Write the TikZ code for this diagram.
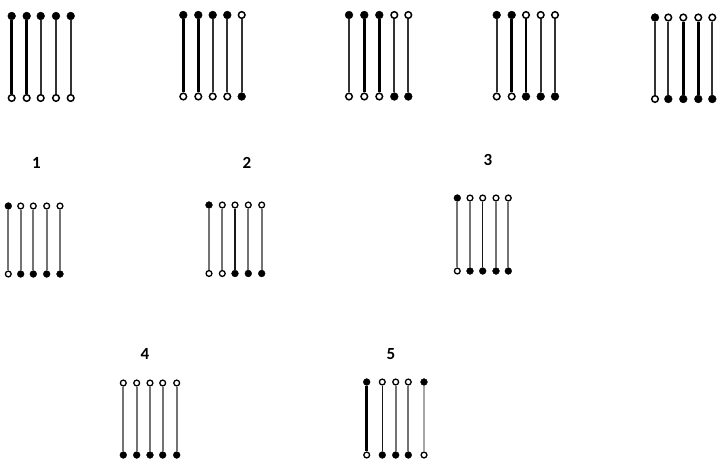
\documentclass[tikz,border=0pt]{standalone}
\usepackage{fontspec}
\setmainfont{Carlito}
\begin{document}
\begin{tikzpicture}[
    x=1pt,
    y=-1pt,
    dotfull/.style={
        circle,
        draw=black,
        fill=black,
        line width=0.4pt,
        inner sep=0pt,
        minimum size=7.8pt
    },
    dotopen/.style={
        circle,
        draw=black,
        fill=white,
        line width=1.5pt,
        inner sep=0pt,
        minimum size=6.6pt
    },
    dotfullsm/.style={
        dotfull,
        minimum size=6.8pt
    },
    dotopensm/.style={
        dotopen,
        line width=1.3pt,
        minimum size=5.8pt
    },
    strongline/.style={
        line width=2.8pt,
        black
    },
    thinline/.style={
        line width=1.7pt,
        black!80
    },
    grayline/.style={
        line width=2.2pt,
        black!55
    },
    darkline/.style={
        line width=1.5pt,
        black!90
    },
    lightline/.style={
        line width=2pt,
        black!35
    },
    numlabel/.style={
        font=\fontsize{17}{17}\selectfont\bfseries,
        inner sep=0pt
    }
]

\useasboundingbox (0,0) rectangle (720,461);

\foreach \x/\t/\b/\s [count=\i] in {
    11.7/dotfull/dotopen/strongline,
    26.7/dotfull/dotopen/strongline,
    40.7/dotfull/dotopen/thinline,
    56/dotfull/dotopen/thinline,
    70.7/dotfull/dotopen/thinline}{
    \node[\t] (a\i t) at (\x,16) {};
    \node[\b] (a\i b) at (\x,98) {};
    \draw[\s] (a\i t) -- (a\i b);
}

\foreach \x/\t/\b/\s [count=\i] in {
    183.3/dotfull/dotopen/strongline,
    198.3/dotfull/dotopen/strongline,
    212.7/dotfull/dotopen/thinline,
    227.3/dotfull/dotopen/thinline,
    241.7/dotopen/dotfull/thinline}{
    \node[\t] (b\i t) at (\x,15) {};
    \node[\b] (b\i b) at (\x,96.5) {};
    \draw[\s] (b\i t) -- (b\i b);
}

\foreach \x/\t/\b/\s [count=\i] in {
    349/dotfull/dotopen/thinline,
    364.3/dotfull/dotopen/strongline,
    379.3/dotfull/dotopen/strongline,
    394.3/dotopen/dotfull/thinline,
    408.3/dotopen/dotfull/thinline}{
    \node[\t] (c\i t) at (\x,15) {};
    \node[\b] (c\i b) at (\x,96.5) {};
    \draw[\s] (c\i t) -- (c\i b);
}

\foreach \x/\t/\b/\s [count=\i] in {
    496.7/dotfull/dotopen/thinline,
    511.7/dotfull/dotopen/strongline,
    526/dotopen/dotfull/strongline,
    540.7/dotopen/dotfull/thinline,
    555/dotopen/dotfull/thinline}{
    \node[\t] (d\i t) at (\x,15) {};
    \node[\b] (d\i b) at (\x,96.5) {};
    \draw[\s] (d\i t) -- (d\i b);
}

\foreach \x/\t/\b/\s [count=\i] in {
    655/dotfull/dotopen/thinline,
    668.3/dotopen/dotfull/thinline,
    683.3/dotopen/dotfull/strongline,
    698.3/dotopen/dotfull/strongline,
    712.3/dotopen/dotfull/thinline}{
    \node[\t] (e\i t) at (\x,17.5) {};
    \node[\b] (e\i b) at (\x,99) {};
    \draw[\s] (e\i t) -- (e\i b);
}

\node[numlabel] (lab1) at (36.5,163) {1};
\node[numlabel] (lab2) at (247,163) {2};
\node[numlabel] (lab3) at (488,160) {3};
\node[numlabel] (lab4) at (145,354) {4};
\node[numlabel] (lab5) at (391,354) {5};

\foreach \x/\t/\b/\s [count=\i] in {
    8.3/dotfullsm/dotopensm/grayline,
    20.7/dotopensm/dotfullsm/grayline,
    33.3/dotopensm/dotfullsm/grayline,
    46.7/dotopensm/dotfullsm/grayline,
    60/dotopensm/dotfullsm/grayline}{
    \node[\t] (p\i t) at (\x,206) {};
    \node[\b] (p\i b) at (\x,274) {};
    \draw[\s] (p\i t) -- (p\i b);
}

\foreach \x/\t/\b/\s [count=\i] in {
    209/dotfullsm/dotopensm/grayline,
    222.3/dotopensm/dotopensm/grayline,
    235/dotopensm/dotfullsm/darkline,
    248.3/dotopensm/dotfullsm/grayline,
    261.7/dotopensm/dotfullsm/grayline}{
    \node[\t] (q\i t) at (\x,205) {};
    \node[\b] (q\i b) at (\x,273.5) {};
    \draw[\s] (q\i t) -- (q\i b);
}

\foreach \x/\t/\b/\s [count=\i] in {
    457.3/dotfullsm/dotopensm/grayline,
    470/dotopensm/dotfullsm/grayline,
    482.7/dotopensm/dotfullsm/darkline,
    496/dotopensm/dotfullsm/grayline,
    508.3/dotopensm/dotfullsm/grayline}{
    \node[\t] (r\i t) at (\x,198) {};
    \node[\b] (r\i b) at (\x,271) {};
    \draw[\s] (r\i t) -- (r\i b);
}

\foreach \x/\t/\b/\s [count=\i] in {
    123.3/dotopensm/dotfullsm/grayline,
    136.7/dotopensm/dotfullsm/grayline,
    150/dotopensm/dotfullsm/grayline,
    162.7/dotopensm/dotfullsm/grayline,
    176.7/dotopensm/dotfullsm/grayline}{
    \node[\t] (s\i t) at (\x,383) {};
    \node[\b] (s\i b) at (\x,455) {};
    \draw[\s] (s\i t) -- (s\i b);
}

\foreach \x/\t/\b/\s [count=\i] in {
    366.7/dotfullsm/dotopensm/strongline,
    382.3/dotopensm/dotfullsm/darkline,
    395.7/dotopensm/dotfullsm/grayline,
    408.3/dotopensm/dotfullsm/grayline,
    424/dotfullsm/dotopensm/lightline}{
    \node[\t] (u\i t) at (\x,382) {};
    \node[\b] (u\i b) at (\x,455) {};
    \draw[\s] (u\i t) -- (u\i b);
}

\end{tikzpicture}
\end{document}
